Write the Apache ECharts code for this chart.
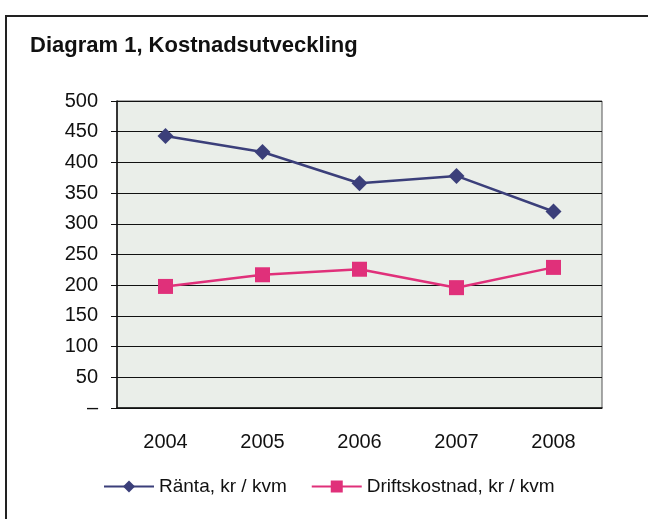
<!DOCTYPE html>
<html><head><meta charset="utf-8">
<script src="https://cdn.jsdelivr.net/npm/echarts@6/dist/echarts.min.js"></script>
<style>html,body{margin:0;padding:0;background:#fff}#c{width:648px;height:519px}</style>
</head><body><div id="c"></div>
<script>
const categories = ['2004','2005','2006','2007','2008'];
const rantaValues = [443, 417, 366, 378, 320];
const driftValues = [198, 217, 226, 196, 229];
const yTicks = [0,50,100,150,200,250,300,350,400,450,500];
const seriesNames = ['Ränta, kr / kvm', 'Driftskostnad, kr / kvm'];

const chart = echarts.init(document.getElementById('c'));
const font = 'Liberation Sans, Arial, sans-serif';
chart.setOption({
  animation: false,
  title: { text: 'Diagram 1, Kostnadsutveckling', left: 25, top: 30,
    textStyle: { fontFamily: font, fontSize: 22, fontWeight: 'bold', color: '#111' } },
  graphic: [{ type: 'rect', shape: { x: 6, y: 16, width: 700, height: 600 },
    style: { fill: 'none', stroke: '#222', lineWidth: 2 }, z: 100 }],
  grid: { left: 117, right: 46, top: 101, bottom: 111, show: true,
    backgroundColor: '#eaeee9', borderColor: '#555', borderWidth: 1 },
  legend: { bottom: 18, left: 98, itemGap: 24, itemWidth: 50, itemHeight: 15,
    textStyle: { fontFamily: font, fontSize: 19, color: '#111' },
    data: seriesNames },
  xAxis: { type: 'category', data: categories, boundaryGap: true,
    axisLine: { lineStyle: { color: '#111', width: 1.5 } },
    axisTick: { inside: true, length: 5, lineStyle: { color: '#111' } },
    axisLabel: { fontFamily: font, fontSize: 20, color: '#111', margin: 24 } },
  yAxis: { type: 'value', min: 0, max: 500, interval: 50,
    axisLine: { show: true, lineStyle: { color: '#111', width: 1.5 } },
    axisTick: { show: true, length: 6, lineStyle: { color: '#111' } },
    splitLine: { lineStyle: { color: '#111', width: 1 } },
    axisLabel: { fontFamily: font, fontSize: 20, color: '#111', margin: 19,
      formatter: v => v === 0 ? '–' : String(v) } },
  series: [
    { name: seriesNames[0], type: 'line', data: rantaValues, symbol: 'diamond', symbolSize: 16,
      lineStyle: { color: '#3b3f7a', width: 2.5 }, itemStyle: { color: '#3b3f7a' } },
    { name: seriesNames[1], type: 'line', data: driftValues, symbol: 'rect', symbolSize: 15,
      lineStyle: { color: '#e0307a', width: 2.5 }, itemStyle: { color: '#e0307a' } }
  ]
});
</script></body></html>
